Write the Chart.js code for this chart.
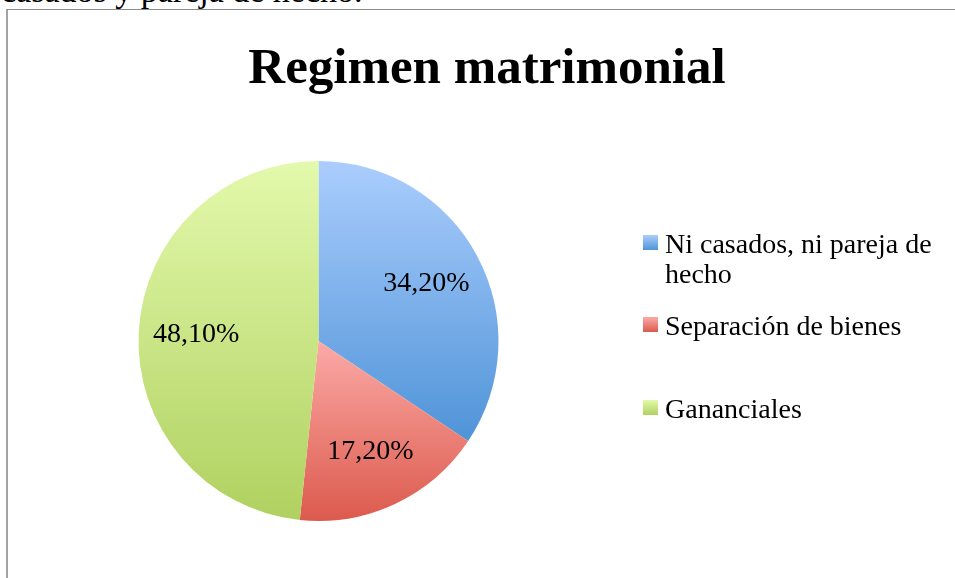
<!DOCTYPE html>
<html>
<head>
<meta charset="utf-8">
<script src="https://cdn.jsdelivr.net/npm/chart.js@4/dist/chart.umd.min.js"></script>
<style>
    html, body { margin: 0; padding: 0; background: #fff; overflow: hidden; }
    body { width: 955px; height: 578px; position: relative; }
    #lead { position: absolute; left: 1px; top: -26px; font: 34px/34px "Liberation Serif", serif; color: #000; white-space: nowrap; }
    #frame { position: absolute; left: 6px; top: 9px; width: 1000px; height: 620px; border-top: 1px solid #8c8c8c; border-left: 2px solid #a3a3a3; }
    #chart { position: absolute; left: 0; top: 0; }
</style>
</head>
<body>
<div id="lead">casados y pareja de hecho.</div>
<div id="frame"></div>
<canvas id="chart" width="955" height="578"></canvas>
<script>
const chartTitle = 'Regimen matrimonial';
const categories = ['Ni casados, ni pareja de hecho', 'Separación de bienes', 'Gananciales'];
const percentages = [34.2, 17.2, 48.1];

// colores degradados (arriba claro, abajo oscuro)
const gradientTop = ['#abcdfd', '#fbaaa6', '#e3f9ac'];
const gradientBottom = ['#4f94d8', '#dc5a4d', '#b0d160'];

const serif = '"Liberation Serif", "Times New Roman", serif';

function formatPercent(v) {
    return v.toFixed(2).replace('.', ',') + '%';
}

function sliceGradient(context) {
    const chart = context.chart;
    const area = chart.chartArea;
    const i = context.dataIndex;
    if (!area) return gradientBottom[i];
    const cx = (area.left + area.right) / 2;
    const cy = (area.top + area.bottom) / 2;
    const r = Math.min(area.right - area.left, area.bottom - area.top) / 2;
    const total = percentages.reduce((a, b) => a + b, 0);
    let start = -Math.PI / 2;
    for (let k = 0; k < i; k++) start += percentages[k] / total * 2 * Math.PI;
    const end = start + percentages[i] / total * 2 * Math.PI;
    const ys = [cy, cy + r * Math.sin(start), cy + r * Math.sin(end)];
    [-Math.PI / 2, Math.PI / 2, 3 * Math.PI / 2].forEach(a => {
        if (a >= start && a <= end) ys.push(cy + r * Math.sin(a));
    });
    const g = chart.ctx.createLinearGradient(0, Math.min(...ys), 0, Math.max(...ys));
    g.addColorStop(0, gradientTop[i]);
    g.addColorStop(1, gradientBottom[i]);
    return g;
}

function wrapText(ctx, text, maxWidth) {
    const words = text.split(' ');
    const lines = [];
    let line = '';
    words.forEach(w => {
        const test = line ? line + ' ' + w : w;
        if (ctx.measureText(test).width > maxWidth && line) {
            lines.push(line);
            line = w;
        } else {
            line = test;
        }
    });
    if (line) lines.push(line);
    return lines;
}

const sliceLabels = {
    id: 'sliceLabels',
    afterDatasetsDraw(chart) {
        const ctx = chart.ctx;
        const meta = chart.getDatasetMeta(0);
        ctx.save();
        ctx.font = '28px ' + serif;
        ctx.fillStyle = '#000';
        ctx.textAlign = 'center';
        ctx.textBaseline = 'middle';
        meta.data.forEach((arc, i) => {
            const p = arc.getProps(['x', 'y', 'startAngle', 'endAngle', 'outerRadius'], true);
            const mid = (p.startAngle + p.endAngle) / 2;
            const d = p.outerRadius * 0.68;
            ctx.fillText(formatPercent(percentages[i]), p.x + Math.cos(mid) * d, p.y + Math.sin(mid) * d);
        });
        ctx.restore();
    }
};

const sideLegend = {
    id: 'sideLegend',
    afterDraw(chart) {
        const ctx = chart.ctx;
        const boxX = 643, textX = 665, boxSize = 15, lineGap = 30;
        const baselines = [253, 335, 418];
        ctx.save();
        ctx.font = '28px ' + serif;
        ctx.fillStyle = '#000';
        ctx.textAlign = 'left';
        ctx.textBaseline = 'alphabetic';
        categories.forEach((name, i) => {
            const y0 = baselines[i];
            const top = y0 - 18;
            const g = ctx.createLinearGradient(0, top, 0, top + boxSize);
            g.addColorStop(0, gradientTop[i]);
            g.addColorStop(1, gradientBottom[i]);
            ctx.fillStyle = g;
            ctx.fillRect(boxX, top, boxSize, boxSize);
            ctx.fillStyle = '#000';
            wrapText(ctx, name, 275).forEach((line, k) => {
                ctx.fillText(line, textX, y0 + k * lineGap);
            });
        });
        // titulo
        ctx.font = 'bold 51px ' + serif;
        ctx.textAlign = 'center';
        ctx.fillText(chartTitle, 487, 83);
        ctx.restore();
    }
};

new Chart(document.getElementById('chart').getContext('2d'), {
    type: 'pie',
    data: {
        labels: categories,
        datasets: [{
            data: percentages,
            backgroundColor: sliceGradient,
            borderWidth: 0
        }]
    },
    options: {
        responsive: false,
        animation: false,
        layout: { padding: { left: 138, top: 161, right: 456, bottom: 57 } },
        plugins: {
            legend: { display: false },
            title: { display: false },
            tooltip: { enabled: false }
        }
    },
    plugins: [sliceLabels, sideLegend]
});
</script>
</body>
</html>
